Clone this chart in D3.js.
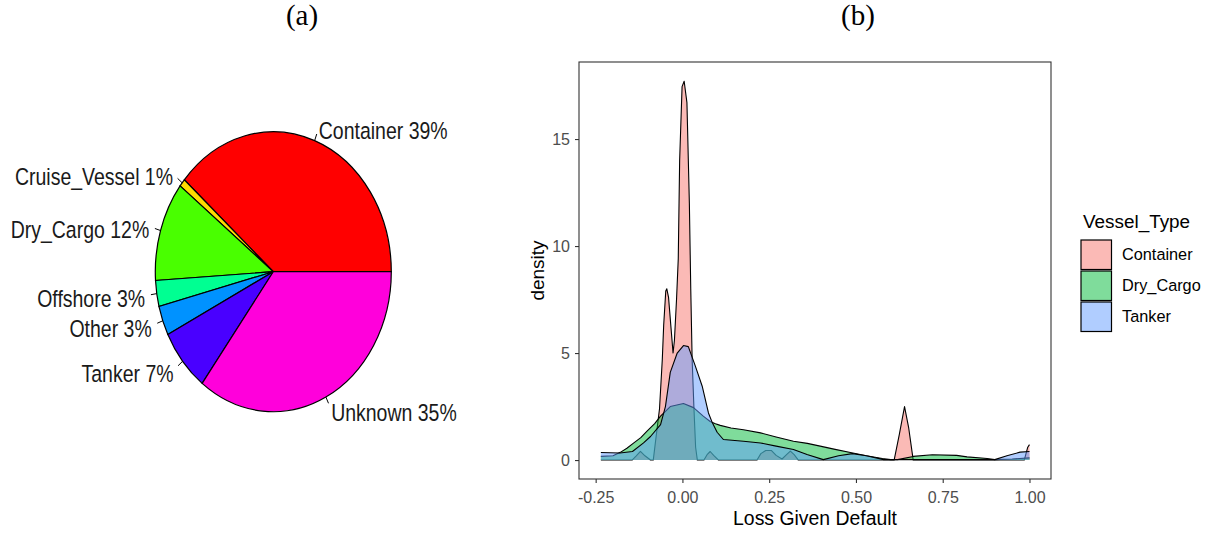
<!DOCTYPE html>
<html>
<head>
<meta charset="utf-8">
<script src="https://cdn.jsdelivr.net/npm/d3@7"></script>
<style>
  body { margin: 0; background: #fff; }
  svg { display: block; font-family: "Liberation Sans", Arial, sans-serif; }
</style>
</head>
<body>
<div id="chart"></div>
<script>
// ---- panel (a): pie of vessel types ----
var pieLabels = ["Container", "Cruise_Vessel", "Dry_Cargo", "Offshore", "Other", "Tanker", "Unknown"];
var pieShares = [38.6, 0.9, 11.5, 3.0, 3.4, 7.3, 35.3];
var pieColors = ["#FF0000", "#FFDB00", "#49FF00", "#00FF92", "#0092FF", "#4900FF", "#FF00DB"];

// ---- panel (b): density of loss given default ----
var vesselTypes = ["Container", "Dry_Cargo", "Tanker"];
var vesselColors = ["#F8766D", "#00BA38", "#619CFF"];
var xTicks = [-0.25, 0, 0.25, 0.5, 0.75, 1];
var yTicks = [0, 5, 10, 15];

// [lgd, density]
var containerDensity = [
    [-0.235, 0], [-0.145, 0], [-0.133, 0.2], [-0.121, 0.41], [-0.108, 0.2], [-0.092, 0],
    [-0.084, 0], [-0.078, 0.8], [-0.072, 1.6], [-0.066, 2.4], [-0.058, 4.7], [-0.054, 6.3],
    [-0.048, 7.9], [-0.045, 8.0], [-0.04, 7.6], [-0.033, 6.2], [-0.027, 5.0], [-0.023, 5.6],
    [-0.017, 7.5], [-0.012, 9.4], [-0.008, 14.0], [-0.001, 17.45], [0.005, 17.7], [0.013, 16.7],
    [0.02, 12.0], [0.024, 8.0], [0.028, 4.7], [0.033, 2.5], [0.038, 0.6], [0.043, 0],
    [0.062, 0], [0.071, 0.25], [0.08, 0.4], [0.09, 0.22], [0.104, 0], [0.215, 0],
    [0.226, 0.3], [0.24, 0.45], [0.256, 0.45], [0.27, 0.22], [0.287, 0.05], [0.3, 0.25],
    [0.311, 0.42], [0.322, 0.25], [0.334, 0], [0.61, 0], [0.625, 1.2], [0.64, 2.5],
    [0.652, 1.5], [0.665, 0], [0.985, 0], [0.995, 0.6], [1.0, 0.72]
];
var dryCargoDensity = [
    [-0.235, 0.17], [-0.2, 0.2], [-0.179, 0.36], [-0.16, 0.55], [-0.14, 0.8], [-0.12, 1.05],
    [-0.102, 1.35], [-0.08, 1.7], [-0.063, 2.05], [-0.035, 2.5], [0.003, 2.64], [0.032, 2.45],
    [0.06, 2.05], [0.08, 1.8], [0.095, 1.7], [0.109, 1.62], [0.14, 1.5], [0.176, 1.42],
    [0.225, 1.27], [0.27, 1.08], [0.32, 0.88], [0.36, 0.78], [0.397, 0.65], [0.44, 0.5],
    [0.484, 0.35], [0.53, 0.2], [0.576, 0.07], [0.6, 0.02], [0.62, 0.02], [0.665, 0.17],
    [0.72, 0.25], [0.79, 0.22], [0.82, 0.15], [0.878, 0.07], [0.9, 0.02], [0.95, 0.05],
    [1.0, 0.1]
];
var tankerDensity = [
    [-0.235, 0.35], [-0.18, 0.33], [-0.144, 0.4], [-0.112, 0.8], [-0.092, 1.1], [-0.063, 1.66],
    [-0.049, 2.5], [-0.035, 4.1], [-0.015, 5.0], [0.003, 5.35], [0.017, 5.3], [0.037, 4.4],
    [0.057, 3.45], [0.075, 2.2], [0.086, 1.75], [0.1, 1.3], [0.118, 0.96], [0.176, 0.88],
    [0.225, 0.8], [0.27, 0.65], [0.32, 0.49], [0.359, 0.26], [0.406, 0.02], [0.45, 0.2],
    [0.49, 0.3], [0.53, 0.2], [0.58, 0.02], [0.9, 0.02], [0.935, 0.2], [0.973, 0.37],
    [1.0, 0.4]
];
var densities = [containerDensity, dryCargoDensity, tankerDensity];

var width = 1210, height = 533;

var svg = d3.select("#chart").append("svg")
    .attr("width", width)
    .attr("height", height);

// panel letters
svg.append("text").attr("x", 302).attr("y", 25)
    .attr("text-anchor", "middle")
    .style("font-family", "'Liberation Serif', 'Times New Roman', serif")
    .style("font-size", "29px")
    .text("(a)");
svg.append("text").attr("x", 858).attr("y", 25)
    .attr("text-anchor", "middle")
    .style("font-family", "'Liberation Serif', 'Times New Roman', serif")
    .style("font-size", "29px")
    .text("(b)");

// ================= pie =================
// the original pie is squashed: taller than it is wide
var pieR = 118;
var pieStretch = 140 / 118;
var pieG = svg.append("g")
    .attr("transform", `translate(273.3, 271.7) scale(1, ${pieStretch})`);

// R draws counter-clockwise starting at 3 o'clock
var pie = d3.pie().sort(null)
    .startAngle(Math.PI / 2)
    .endAngle(Math.PI / 2 - 2 * Math.PI);
var arcs = pie(pieShares);
var arc = d3.arc().innerRadius(0).outerRadius(pieR);

pieG.selectAll("path.slice")
    .data(arcs)
    .enter().append("path")
    .attr("class", "slice")
    .attr("d", arc)
    .attr("fill", (d, i) => pieColors[i])
    .attr("stroke", "#000")
    .attr("stroke-width", 1.2)
    .attr("vector-effect", "non-scaling-stroke");

arcs.forEach(function (d, i) {
    var mid = (d.startAngle + d.endAngle) / 2;
    var ux = Math.sin(mid), uy = -Math.cos(mid);
    // leader line from 1.0 to 1.05 radius, label at 1.1 radius
    pieG.append("line")
        .attr("x1", ux * pieR).attr("y1", uy * pieR)
        .attr("x2", ux * pieR * 1.05).attr("y2", uy * pieR * 1.05)
        .attr("stroke", "#000")
        .attr("stroke-width", 1)
        .attr("vector-effect", "non-scaling-stroke");
    pieG.append("text")
        .attr("x", ux * pieR * 1.1)
        .attr("y", uy * pieR * 1.1)
        .attr("dy", "0.5em")
        .attr("text-anchor", ux < 0 ? "end" : "start")
        .attr("fill", "#1a1a1a")
        .style("font-size", "19.5px")
        .text(pieLabels[i] + " " + Math.round(pieShares[i]) + "%");
});

// ================= density plot =================
var panel = { left: 579, right: 1051, top: 62, bottom: 479 };

var x = d3.scaleLinear()
    .domain([-0.298, 1.062])
    .range([panel.left, panel.right]);
var y = d3.scaleLinear()
    .domain([-0.885, 18.6])
    .range([panel.bottom, panel.top]);

svg.append("clipPath").attr("id", "panelClip")
    .append("rect")
    .attr("x", panel.left).attr("y", panel.top)
    .attr("width", panel.right - panel.left)
    .attr("height", panel.bottom - panel.top);

var plotG = svg.append("g").attr("clip-path", "url(#panelClip)");

var area = d3.area()
    .x(d => x(d[0]))
    .y0(y(0))
    .y1(d => y(d[1]));
var line = d3.line()
    .x(d => x(d[0]))
    .y(d => y(d[1]));

// each group: fill then outline, in group order
densities.forEach(function (data, i) {
    plotG.append("path")
        .datum(data)
        .attr("d", area)
        .attr("fill", vesselColors[i])
        .attr("fill-opacity", 0.5);
    plotG.append("path")
        .datum(data)
        .attr("d", line)
        .attr("fill", "none")
        .attr("stroke", "#000")
        .attr("stroke-width", 1.1)
        .attr("stroke-linejoin", "round");
});

// border
svg.append("rect")
    .attr("x", panel.left).attr("y", panel.top)
    .attr("width", panel.right - panel.left)
    .attr("height", panel.bottom - panel.top)
    .attr("fill", "none")
    .attr("stroke", "#333")
    .attr("stroke-width", 1.1);

// axes (plain hyphen for negatives, like ggplot)
var xAxis = svg.append("g")
    .attr("transform", `translate(0, ${panel.bottom})`)
    .call(d3.axisBottom(x).tickValues(xTicks).tickFormat(d => d.toFixed(2))
        .tickSize(4).tickPadding(9));
var yAxis = svg.append("g")
    .attr("transform", `translate(${panel.left}, 0)`)
    .call(d3.axisLeft(y).tickValues(yTicks).tickFormat(d => String(d))
        .tickSize(4).tickPadding(5));

[xAxis, yAxis].forEach(function (ax) {
    ax.select(".domain").remove();
    ax.selectAll("line").attr("stroke", "#333").attr("stroke-width", 1.1);
    ax.selectAll("text")
        .attr("fill", "#4d4d4d")
        .style("font-size", "16px")
        .style("font-family", "'Liberation Sans', Arial, sans-serif");
});

// axis titles
svg.append("text")
    .attr("x", (panel.left + panel.right) / 2)
    .attr("y", 525)
    .attr("text-anchor", "middle")
    .attr("fill", "#000")
    .style("font-size", "19.4px")
    .text("Loss Given Default");

svg.append("text")
    .attr("transform", "rotate(-90)")
    .attr("x", -(panel.top + panel.bottom) / 2)
    .attr("y", 544)
    .attr("text-anchor", "middle")
    .attr("fill", "#000")
    .style("font-size", "19px")
    .text("density");

// legend
var legendG = svg.append("g");
legendG.append("text")
    .attr("x", 1083).attr("y", 228)
    .attr("fill", "#000")
    .style("font-size", "18.9px")
    .text("Vessel_Type");

vesselTypes.forEach(function (name, i) {
    var ky = 240 + i * 31;
    legendG.append("rect")
        .attr("x", 1081).attr("y", ky)
        .attr("width", 30.5).attr("height", 29.5)
        .attr("fill", vesselColors[i])
        .attr("fill-opacity", 0.5)
        .attr("stroke", "#000")
        .attr("stroke-width", 1.2);
    legendG.append("text")
        .attr("x", 1122).attr("y", ky + 14.75)
        .attr("dy", "0.35em")
        .attr("fill", "#000")
        .style("font-size", "16.3px")
        .text(name);
});
</script>
</body>
</html>
